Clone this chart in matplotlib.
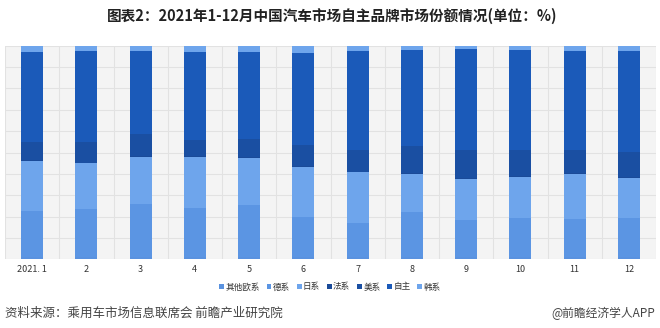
import matplotlib
matplotlib.use("Agg")
import matplotlib.pyplot as plt
from matplotlib.patches import Patch
import numpy as np

plt.rcParams['font.family'] = ['Noto Sans CJK SC', 'DejaVu Sans']

months = ["2021. 1", "2", "3", "4", "5", "6", "7", "8", "9", "10", "11", "12"]

# market share by brand origin, %
other_eu = [1.0, 1.0, 1.0, 1.0, 1.0, 1.0, 1.0, 1.0, 1.0, 1.0, 1.0, 1.0]
german   = [21.8, 22.5, 24.7, 23.2, 24.6, 18.8, 16.1, 21.0, 17.4, 18.2, 18.0, 18.2]
japanese = [23.2, 21.4, 22.1, 23.8, 22.0, 23.6, 23.6, 17.9, 19.3, 19.5, 20.9, 19.0]
french   = [0.4, 0.4, 0.4, 0.4, 0.4, 0.4, 0.4, 0.4, 0.4, 0.4, 0.4, 0.4]
american = [8.7, 9.8, 10.3, 7.5, 8.3, 9.7, 10.1, 12.7, 13.1, 12.1, 10.9, 11.8]
domestic = [41.8, 42.4, 39.0, 41.3, 40.8, 43.2, 46.3, 44.8, 47.1, 46.8, 46.5, 47.1]
korean   = [3.1, 2.5, 2.5, 2.8, 2.9, 3.3, 2.5, 2.2, 1.7, 2.0, 2.3, 2.5]

series_names = ["其他欧系", "德系", "日系", "法系", "美系", "自主", "韩系"]
series = [other_eu, german, japanese, french, american, domestic, korean]
colors = ["#5a92df", "#5b95e3", "#6ea5ec", "#1a4a98", "#1a4fa2", "#1b5ab9", "#6ea5ec"]

fig = plt.figure(figsize=(6.6, 3.28), dpi=100)
ax = fig.add_axes([5 / 660, 1 - 259.3 / 328, 651 / 660, (259.3 - 45.7) / 328])
ax.set_facecolor("#f4f4f4")

x = np.arange(len(months))
bottom = np.zeros(len(months))
for vals, c in zip(series, colors):
    v = np.array(vals)
    ax.bar(x, v, width=0.405, bottom=bottom, color=c, linewidth=0, zorder=3)
    bottom += v

ax.set_xlim(-0.5, len(months) - 0.5)
ax.set_ylim(0, 100)
ax.set_yticks(np.arange(0, 101, 10))
ax.set_xticks(np.arange(-0.5, len(months), 1), minor=True)
ax.grid(axis="y", which="major", color="#e2e2e2", linewidth=0.8, zorder=0)
ax.grid(axis="x", which="minor", color="#e2e2e2", linewidth=0.8, zorder=0)
ax.tick_params(axis="x", which="both", length=0)
ax.tick_params(axis="y", length=0, labelleft=False)
ax.set_xticks(x)
ax.set_xticklabels(months, fontsize=6.5, color="#333333")
ax.tick_params(axis="x", pad=4)
for s in ax.spines.values():
    s.set_visible(False)

fig.text(0.503, 1 - 16 / 328, "图表2：2021年1-12月中国汽车市场自主品牌市场份额情况(单位：%)",
         ha="center", va="center", fontsize=10.5, fontweight="bold", color="#222222")

handles = [Patch(facecolor=c, edgecolor="none") for c in colors]
fig.legend(handles, series_names, loc="center", bbox_to_anchor=(0.5, 1 - 287 / 328),
           ncol=7, frameon=False, fontsize=6.2, handlelength=0.55, handleheight=0.55,
           handletextpad=0.15, columnspacing=0.8, labelcolor="#333333")

fig.text(5 / 660, 1 - 313 / 328, "资料来源：乘用车市场信息联席会 前瞻产业研究院",
         ha="left", va="center", fontsize=9, color="#444444")
fig.text(655 / 660, 1 - 313 / 328, "@前瞻经济学人APP",
         ha="right", va="center", fontsize=8.5, color="#444444")

fig.savefig("out.png", dpi=100, facecolor="white")
